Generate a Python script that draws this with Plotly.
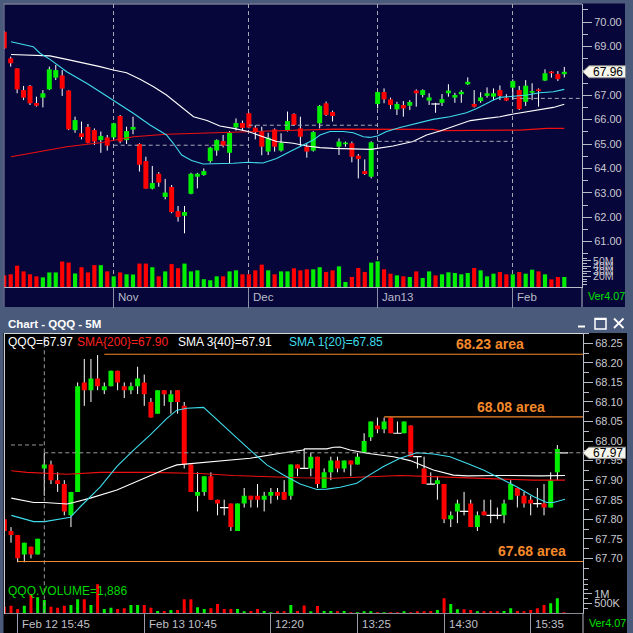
import plotly.graph_objects as go
import pandas as pd

W = H = 633
FONT = "Liberation Sans, Arial, sans-serif"

# ---------------- Daily QQQ (top panel) ----------------
d_dates = pd.bdate_range("2012-10-05", "2013-02-13", freq="C",
                         holidays=["2012-10-29", "2012-10-30", "2012-11-22",
                                   "2012-12-25", "2013-01-01", "2013-01-21"])
d_open = [69.60, 68.51, 68.10, 67.21, 67.38, 66.68, 66.90, 67.24, 67.72, 67.81,
          67.19, 65.57, 65.44, 65.70, 65.57, 65.16, 65.27, 65.27, 66.15, 65.16,
          65.59, 65.00, 64.30, 63.17, 63.78, 62.83, 63.24, 62.25, 62.06, 62.96,
          63.66, 63.73, 64.30, 64.73, 65.12, 64.64, 65.68, 65.86, 66.26, 65.67,
          65.51, 64.69, 65.60, 64.73, 65.57, 66.23, 65.64, 64.89, 64.73, 65.85,
          66.67, 66.31, 64.89, 65.00, 65.03, 64.52, 63.89, 63.66, 66.64, 67.13,
          66.83, 66.42, 66.60, 66.57, 67.19, 67.01, 66.78, 66.64, 66.69, 67.08,
          66.90, 67.04, 67.45, 66.64, 66.76, 66.97, 66.94, 67.21, 66.90, 67.31,
          67.21, 66.73, 67.10, 67.24, 67.60, 67.97, 67.87, 67.86]
d_high = [69.62, 68.58, 68.10, 67.38, 67.42, 66.94, 67.21, 68.17, 68.24, 68.03,
          67.20, 66.12, 65.92, 65.82, 65.64, 65.51, 65.37, 65.87, 66.19, 65.71,
          66.12, 65.03, 64.48, 64.10, 63.85, 63.57, 63.32, 62.46, 62.46, 63.82,
          63.82, 64.00, 64.89, 65.19, 65.37, 65.53, 66.05, 65.96, 66.28, 65.77,
          65.71, 65.46, 65.64, 65.44, 66.33, 66.26, 66.12, 65.03, 65.53, 66.60,
          66.74, 66.37, 65.23, 65.10, 65.10, 64.59, 64.37, 65.11, 67.14, 67.28,
          66.90, 66.73, 66.76, 66.80, 67.24, 67.24, 67.08, 66.69, 67.05, 67.45,
          67.10, 67.21, 67.73, 67.21, 67.12, 67.32, 67.28, 67.40, 67.04, 67.65,
          67.38, 67.62, 67.49, 67.28, 68.06, 67.99, 67.99, 68.16]
d_low = [68.90, 68.17, 67.08, 66.80, 66.60, 66.53, 66.50, 67.21, 67.62, 66.97,
         65.57, 65.46, 65.19, 65.03, 64.96, 64.64, 64.73, 65.19, 65.03, 65.00,
         65.40, 63.87, 63.17, 63.14, 63.25, 62.73, 62.16, 61.82, 61.34, 62.94,
         63.18, 63.70, 64.23, 64.52, 64.86, 64.22, 65.55, 65.57, 65.64, 65.19,
         64.54, 64.55, 64.69, 64.69, 65.51, 65.74, 64.89, 64.44, 64.69, 65.64,
         66.15, 65.92, 64.55, 64.89, 64.25, 63.59, 63.73, 63.59, 66.46, 66.67,
         66.43, 66.19, 66.12, 66.39, 66.53, 66.91, 66.60, 66.28, 66.56, 66.94,
         66.69, 66.69, 67.42, 66.50, 66.69, 66.90, 66.80, 66.80, 66.76, 66.80,
         66.39, 66.56, 66.80, 66.53, 67.58, 67.72, 67.58, 67.73]
d_close = [68.92, 68.31, 67.24, 66.90, 66.67, 66.57, 67.08, 68.06, 68.03, 67.27,
           65.60, 65.98, 65.29, 65.05, 65.10, 65.33, 64.93, 65.85, 65.10, 65.53,
           65.70, 64.15, 63.17, 63.40, 63.42, 63.01, 62.21, 62.01, 62.21, 63.78,
           63.78, 63.89, 64.85, 65.16, 64.93, 65.46, 65.86, 65.66, 65.67, 65.48,
           64.89, 65.26, 64.89, 65.05, 65.94, 65.78, 65.30, 64.69, 65.49, 66.56,
           66.19, 66.15, 65.10, 65.05, 64.48, 64.39, 63.77, 65.07, 67.13, 66.83,
           66.60, 66.64, 66.46, 66.72, 67.08, 67.21, 66.91, 66.64, 66.84, 67.19,
           67.01, 67.14, 67.55, 66.53, 66.91, 67.08, 67.08, 66.97, 66.78, 67.58,
           66.43, 67.39, 67.17, 67.17, 67.90, 67.90, 67.66, 67.96]
d_volume_m = [22.4, 24.4, 41, 30, 24.4, 20.5, 18.6, 28, 28, 49,
              47, 26, 38, 28, 42, 42, 30, 20.5, 28, 24.4,
              24, 45, 45, 38, 20.5, 30, 44, 36, 45, 30,
              32, 15, 13, 20.5, 20.5, 30, 32, 24.4, 24.4, 32,
              43, 32, 24.4, 30, 30, 36, 32, 34, 34, 38,
              28.8, 32, 39.7, 9.6, 19.2, 36.5, 28.8, 46.8, 49.4, 34,
              25.6, 22.4, 20.5, 19.2, 30, 17.3, 30, 22.4, 24.4, 28.2,
              26.9, 24.4, 26.9, 36.5, 32, 20.5, 25.6, 28.8, 24.4, 24.4,
              28.8, 25.6, 33.3, 30, 24.4, 14.7, 19.2, 19.2]
# moving averages (bar position, value)
d_cyan_x = [1.05, 4.5, 5.55, 7.1, 9.7, 11.25, 12.8, 14.87, 16.94, 20.05, 22.64, 25.2, 26.26,
            27.56, 29.1, 30.9, 35.6, 37.9, 40.2, 42.3, 44.4, 46.46, 48.0, 49.05, 50.6, 52.67,
            54.2, 55.8, 56.8, 57.96, 59.4, 61.48, 64.07, 66.6, 69.2, 71.8, 73.4, 74.95, 76.0,
            77.0, 79.1, 81.2, 83.2, 85.3, 87.0]
d_cyan_y = [69.19, 68.99, 68.72, 68.47, 67.96, 67.73, 67.49, 67.14, 66.80, 66.26, 65.78, 65.37,
            65.03, 64.55, 64.32, 64.18, 64.21, 64.25, 64.22, 64.41, 64.69, 64.96, 65.16, 65.37,
            65.51, 65.51, 65.46, 65.30, 65.27, 65.33, 65.51, 65.68, 65.85, 66.01, 66.12, 66.28,
            66.46, 66.67, 66.80, 66.91, 66.97, 67.01, 67.10, 67.14, 67.24]
d_white_x = [1.05, 4.5, 7.1, 9.7, 12.3, 14.87, 16.94, 19.0, 21.1, 23.2, 25.2, 27.3, 29.4, 31.5,
             33.5, 35.6, 37.9, 40.2, 42.3, 44.9, 47.0, 49.05, 51.1, 56.97, 60.4, 63.5, 65.6,
             67.7, 70.3, 72.4, 74.95, 77.0, 79.1, 81.2, 83.2, 85.3, 87.0]
d_white_y = [68.67, 68.65, 68.61, 68.47, 68.33, 68.17, 68.03, 67.92, 67.65, 67.35, 67.01, 66.56,
             66.12, 65.96, 65.74, 65.64, 65.51, 65.30, 65.10, 65.03, 64.92, 64.85, 64.82, 64.78,
             64.92, 65.10, 65.37, 65.53, 65.78, 65.96, 66.05, 66.12, 66.23, 66.33, 66.42, 66.50,
             66.63]
d_red_x = [1.05, 4.5, 9.7, 14.87, 20.05, 25.2, 30.4, 35.6, 40.8, 46.0, 51.1, 66.6, 67.7, 80.1, 84.3, 87.0]
d_red_y = [64.48, 64.64, 64.89, 65.05, 65.30, 65.40, 65.44, 65.51, 65.55, 65.57, 65.61, 65.60,
           65.55, 65.57, 65.64, 65.64]
d_month_levels = [64.95, 65.77, 65.11, 66.87]   # dashed monthly reference levels
d_month_labels = ["Nov", "Dec", "Jan13", "Feb"]
d_price_ticks = [61, 62, 63, 64, 65, 66, 67, 68, 69, 70]
d_vol_ticks = [20, 30, 40, 50]

# ---------------- 5-minute QQQ (bottom panel) ----------------
b_times = ([f"Feb 12 15:{m:02d}" for m in range(35, 60, 5)] + ["Feb 12 16:00"] +
           [f"Feb 13 {h}:{m:02d}" for h in range(9, 16) for m in range(0, 60, 5)
            if not (h == 9 and m < 30)] + ["Feb 13 16:00"])
b_open = [67.80, 67.77, 67.76, 67.71, 67.73, 67.71, 67.93, 67.94, 67.90, 67.89,
          67.81, 67.87, 68.15, 68.13, 68.16, 68.13, 68.14, 68.18, 68.14, 68.13,
          68.14, 68.15, 68.10, 68.07, 68.13, 68.10, 68.13, 68.09, 67.94, 67.86,
          67.87, 67.91, 67.85, 67.83, 67.84, 67.77, 67.84, 67.86, 67.86, 67.85,
          67.86, 67.87, 67.87, 67.86, 67.94, 67.93, 67.93, 67.96, 67.88, 67.92,
          67.95, 67.93, 67.95, 67.94, 67.97, 68.01, 68.04, 68.03, 68.06, 68.02,
          68.02, 68.04, 67.96, 67.93, 67.89, 67.89, 67.89, 67.80, 67.82, 67.82,
          67.84, 67.78, 67.82, 67.81, 67.81, 67.81, 67.85, 67.88, 67.86, 67.85,
          67.84, 67.84, 67.83, 67.92, 67.97]
b_high = [67.80, 67.78, 67.76, 67.74, 67.73, 67.75, 67.97, 67.95, 67.92, 67.90,
          67.87, 68.15, 68.21, 68.21, 68.22, 68.15, 68.18, 68.18, 68.15, 68.15,
          68.19, 68.17, 68.11, 68.13, 68.13, 68.13, 68.13, 68.10, 67.94, 67.92,
          67.91, 67.92, 67.85, 67.85, 67.84, 67.84, 67.88, 67.86, 67.89, 67.87,
          67.88, 67.88, 67.90, 67.94, 67.94, 67.98, 67.97, 67.96, 67.93, 67.96,
          67.96, 67.95, 67.95, 67.97, 68.02, 68.05, 68.06, 68.06, 68.06, 68.05,
          68.05, 68.04, 67.96, 67.96, 67.92, 67.91, 67.89, 67.82, 67.85, 67.87,
          67.85, 67.82, 67.85, 67.85, 67.83, 67.85, 67.90, 67.88, 67.87, 67.86,
          67.88, 67.89, 67.92, 67.99, 67.97]
b_low = [67.77, 67.74, 67.69, 67.69, 67.70, 67.71, 67.86, 67.89, 67.87, 67.81,
         67.78, 67.87, 68.09, 68.10, 68.13, 68.12, 68.14, 68.13, 68.11, 68.12,
         68.12, 68.09, 68.06, 68.07, 68.09, 68.07, 68.07, 67.93, 67.87, 67.82,
         67.86, 67.85, 67.81, 67.81, 67.77, 67.77, 67.83, 67.83, 67.83, 67.82,
         67.84, 67.85, 67.85, 67.85, 67.91, 67.93, 67.91, 67.88, 67.88, 67.90,
         67.92, 67.92, 67.91, 67.94, 67.97, 68.00, 68.02, 68.02, 68.02, 68.02,
         68.02, 67.96, 67.93, 67.89, 67.89, 67.85, 67.79, 67.78, 67.79, 67.81,
         67.78, 67.77, 67.81, 67.79, 67.80, 67.79, 67.85, 67.83, 67.83, 67.81,
         67.83, 67.81, 67.83, 67.90, 67.97]
b_close = [67.77, 67.76, 67.70, 67.74, 67.71, 67.75, 67.94, 67.90, 67.89, 67.82,
           67.87, 68.14, 68.13, 68.16, 68.14, 68.14, 68.18, 68.15, 68.13, 68.14,
           68.16, 68.12, 68.06, 68.13, 68.12, 68.12, 68.10, 67.94, 67.87, 67.87,
           67.91, 67.85, 67.84, 67.83, 67.78, 67.84, 67.86, 67.85, 67.85, 67.86,
           67.87, 67.86, 67.85, 67.94, 67.93, 67.93, 67.96, 67.89, 67.92, 67.95,
           67.93, 67.95, 67.94, 67.96, 68.00, 68.05, 68.03, 68.05, 68.02, 68.02,
           68.05, 67.96, 67.96, 67.89, 67.89, 67.90, 67.80, 67.81, 67.84, 67.82,
           67.78, 67.81, 67.81, 67.81, 67.81, 67.84, 67.89, 67.86, 67.84, 67.84,
           67.84, 67.83, 67.90, 67.98, 67.97]
b_volume_k = [345, 397, 224, 397, 983, 828, 690, 345, 293, 397,
              431, 724, 724, 431, 1500, 224, 293, 224, 259, 431,
              431, 431, 293, 121, 121, 172, 172, 724, 724, 310,
              224, 259, 483, 224, 224, 224, 86, 121, 224, 121,
              34, 86, 86, 431, 121, 400, 86, 380, 121, 121,
              86, 121, 34, 34, 86, 86, 34, 34, 34, 34,
              86, 34, 86, 86, 121, 172, 776, 483, 207, 207,
              172, 86, 86, 86, 86, 121, 259, 121, 86, 172,
              259, 431, 517, 776, 20]
b_white_x = [1.05, 4.4, 6.05, 9.4, 10.4, 12.9, 16.9, 20.9, 24.4, 25.9, 28.4, 31.9, 36.9, 41.9,
             44.9, 45.05, 48.4, 49.4, 50.4, 51.9, 54.4, 58.4, 60.9, 64.4, 67.4, 69.4, 74.4, 80.4, 84.15]
b_white_y = [67.854, 67.843, 67.843, 67.839, 67.843, 67.854, 67.875, 67.905, 67.930, 67.939,
             67.943, 67.947, 67.956, 67.970, 67.977, 67.980, 67.980, 67.984, 67.985, 67.977,
             67.969, 67.960, 67.950, 67.926, 67.913, 67.911, 67.912, 67.911, 67.912]
b_cyan_x = [1.05, 4.4, 6.05, 9.9, 11.4, 14.4, 16.9, 19.4, 21.9, 24.4, 25.9, 27.4, 29.9, 31.9,
            34.4, 36.9, 39.4, 41.9, 44.4, 46.9, 48.4, 50.4, 52.9, 54.4, 56.9, 59.4, 61.9, 64.4,
            66.9, 69.4, 71.9, 74.4, 76.9, 79.4, 81.4, 82.4, 84.15]
b_cyan_y = [67.810, 67.794, 67.794, 67.805, 67.832, 67.883, 67.935, 67.977, 68.016, 68.058,
            68.079, 68.084, 68.086, 68.054, 68.016, 67.977, 67.939, 67.913, 67.890, 67.876,
            67.877, 67.882, 67.892, 67.909, 67.935, 67.956, 67.970, 67.967, 67.960, 67.943,
            67.926, 67.905, 67.883, 67.858, 67.843, 67.843, 67.851]
b_red_x = [1.05, 3.4, 9.4, 14.4, 21.9, 29.4, 34.4, 39.4, 44.4, 49.4, 54.4, 59.4, 64.4, 69.4, 74.4, 79.4, 84.15]
b_red_y = [67.924, 67.920, 67.915, 67.920, 67.920, 67.917, 67.912, 67.909, 67.906, 67.905,
           67.909, 67.912, 67.909, 67.906, 67.903, 67.900, 67.900]
b_tick_labels = ["Feb 12 15:45", "Feb 13 10:45", "Feb 13 12:20", "Feb 13 13:25", "Feb 13 14:30", "Feb 13 15:35"]
b_tick_text = ["Feb 12 15:45", "Feb 13 10:45", "12:20", "13:25", "14:30", "15:35"]
b_prev_level = 67.99      # dashed level, previous session
b_last_level = 67.97      # dashed level, current session
b_areas = [("68.23 area", 68.222, "Feb 13 10:15"),
           ("68.08 area", 68.062, "Feb 13 13:45"),
           ("67.68 area", 67.692, "Feb 12 15:45")]
b_price_ticks = [67.70, 67.75, 67.80, 67.85, 67.90, 67.95, 68.00, 68.05, 68.10, 68.15, 68.20, 68.25]
b_vol_ticks = [500, 1000]
b_vol_text = ["500K", "1M"]
b_volume_label = "QQQ.VOLUME=1,886"

# ---------------- styling ----------------
GREEN, RED, WHITE, CYAN = "#00ee00", "#ff0000", "#ffffff", "#3fdcec"
MA_RED = "#ee1010"
ORANGE = "#f5892a"
AXIS_TXT = "#c8c8d0"
NAVY = "#07063a"
SLATE = "#4a5a7b"


def PX(x):
    return x / W


def PY(y):
    return 1 - y / H


TOP = dict(x0=4, x1=582, y0=4, y1=287, xr=[-0.04, 89.75], yr=[59.14, 70.738], vr=[0, 544])
BOT = dict(x0=4, x1=583, y0=333.3, y1=613.3, xr=[-0.05, 86.85], yr=[67.5595, 68.2756], vr=[0, 14500])
top_ppu = (TOP["y1"] - TOP["y0"]) / (TOP["yr"][1] - TOP["yr"][0])
bot_ppu = (BOT["y1"] - BOT["y0"]) / (BOT["yr"][1] - BOT["yr"][0])

fig = go.Figure()


def add_candles(o, h, l, c, xa, ya, ppu, body_px):
    idx = list(range(len(o)))
    wx, wy = [], []
    for i in idx:
        wx += [i, i, None]
        wy += [l[i], h[i], None]
    fig.add_trace(go.Scatter(x=wx, y=wy, mode="lines", line=dict(color=WHITE, width=1),
                             xaxis=xa, yaxis=ya, hoverinfo="skip"))
    min_h = 1.6 / ppu
    for col, test in ((GREEN, lambda a, b: b - a > 0.004), (RED, lambda a, b: a - b > 0.004)):
        bx, by = [], []
        for i in idx:
            if test(o[i], c[i]):
                lo, hi = min(o[i], c[i]), max(o[i], c[i])
                if hi - lo < min_h:
                    m = (hi + lo) / 2
                    lo, hi = m - min_h / 2, m + min_h / 2
                bx += [i, i, None]
                by += [lo, hi, None]
        fig.add_trace(go.Scatter(x=bx, y=by, mode="lines", line=dict(color=col, width=body_px),
                                 xaxis=xa, yaxis=ya, hoverinfo="skip"))
    dj = [i for i in idx if abs(c[i] - o[i]) <= 0.004]
    fig.add_trace(go.Scatter(x=dj, y=[c[i] for i in dj], mode="markers",
                             marker=dict(symbol="line-ew", size=6, line=dict(color=WHITE, width=1.2)),
                             xaxis=xa, yaxis=ya, hoverinfo="skip"))


def vol_colors(o, c):
    return [GREEN if c[i] - o[i] > 0.004 else RED for i in range(len(o))]


# ---- top panel traces ----
add_candles(d_open, d_high, d_low, d_close, "x", "y", top_ppu, 5)
for xs, ys, col in ((d_red_x, d_red_y, MA_RED), (d_white_x, d_white_y, WHITE), (d_cyan_x, d_cyan_y, CYAN)):
    fig.add_trace(go.Scatter(x=xs, y=ys, mode="lines", line=dict(color=col, width=1.1),
                             xaxis="x", yaxis="y", hoverinfo="skip"))
fig.add_trace(go.Bar(x=list(range(len(d_volume_m))), y=d_volume_m, width=0.65,
                     marker=dict(color=vol_colors(d_open, d_close), line=dict(width=0)),
                     xaxis="x", yaxis="y2", hoverinfo="skip"))

# ---- bottom panel traces ----
add_candles(b_open, b_high, b_low, b_close, "x2", "y3", bot_ppu, 5)
for xs, ys, col in ((b_red_x, b_red_y, MA_RED), (b_white_x, b_white_y, WHITE), (b_cyan_x, b_cyan_y, CYAN)):
    fig.add_trace(go.Scatter(x=xs, y=ys, mode="lines", line=dict(color=col, width=1.1),
                             xaxis="x2", yaxis="y3", hoverinfo="skip"))
fig.add_trace(go.Bar(x=list(range(len(b_volume_k))), y=b_volume_k, width=0.45,
                     marker=dict(color=vol_colors(b_open, b_close), line=dict(width=0)),
                     xaxis="x2", yaxis="y4", hoverinfo="skip"))

# ---- ticks from data ----
month_idx = []
for k in range(1, len(d_dates)):
    if d_dates[k].month != d_dates[k - 1].month:
        month_idx.append(k)
b_tick_idx = [b_times.index(t) for t in b_tick_labels]
day_break = next(k for k in range(1, len(b_times)) if b_times[k][:6] != b_times[k - 1][:6])

tickfont = dict(family=FONT, size=11, color=AXIS_TXT)
fig.update_layout(
    width=W, height=H, margin=dict(l=0, r=0, t=0, b=0),
    paper_bgcolor=SLATE, plot_bgcolor="rgba(0,0,0,0)", showlegend=False,
    barmode="overlay", font=dict(family=FONT),
    xaxis=dict(domain=[PX(TOP["x0"]), PX(TOP["x1"])], range=TOP["xr"], anchor="y",
               tickmode="array", tickvals=month_idx, showticklabels=False,
               ticks="outside", ticklen=20, tickcolor="#8a90a8", tickwidth=1,
               showgrid=True, gridcolor="#a8a8b4", griddash="4px,3px", gridwidth=1,
               showline=True, linecolor="#b8bcc8", linewidth=1, zeroline=False, fixedrange=True),
    yaxis=dict(domain=[PY(TOP["y1"]), PY(TOP["y0"])], range=TOP["yr"], anchor="x", side="right",
               tickmode="array", tickvals=d_price_ticks, ticktext=[f"{v:.2f}" for v in d_price_ticks],
               ticks="outside", ticklen=9, tickcolor="#b8bcc8", tickfont=tickfont,
               showgrid=False, zeroline=False, showline=True, linecolor="#b8bcc8",
               minor=dict(tickvals=[v + 0.5 for v in [60] + d_price_ticks], ticks="outside",
                          ticklen=5, tickcolor="#b8bcc8", showgrid=False),
               fixedrange=True),
    yaxis2=dict(overlaying="y", anchor="x", side="right", range=TOP["vr"],
                tickmode="array", tickvals=d_vol_ticks, ticktext=[f"{v}M" for v in d_vol_ticks],
                ticks="outside", ticklen=8, tickcolor="#b8bcc8",
                tickfont=dict(family=FONT, size=10.5, color=AXIS_TXT),
                showgrid=False, zeroline=False, showline=False,
                minor=dict(tickvals=[5, 10, 15, 25, 35, 45, 55], ticks="outside", ticklen=4,
                           tickcolor="#b8bcc8", showgrid=False),
                fixedrange=True),
    xaxis2=dict(domain=[PX(BOT["x0"]), PX(BOT["x1"])], range=BOT["xr"], anchor="y3",
                tickmode="array", tickvals=b_tick_idx, showticklabels=False,
                ticks="outside", ticklen=20, tickcolor="#9a9aa8", tickwidth=1,
                showgrid=False, showline=True, linecolor="#8a8a96", zeroline=False, fixedrange=True),
    yaxis3=dict(domain=[PY(BOT["y1"]), PY(BOT["y0"])], range=BOT["yr"], anchor="x2", side="right",
                tickmode="array", tickvals=b_price_ticks, ticktext=[f"{v:.2f}" for v in b_price_ticks],
                ticks="outside", ticklen=9, tickcolor="#b8bcc8", tickfont=tickfont,
                showgrid=False, zeroline=False, showline=True, linecolor="#b8bcc8",
                minor=dict(tickvals=[v + 0.025 for v in [67.65] + b_price_ticks], ticks="outside",
                           ticklen=5, tickcolor="#b8bcc8", showgrid=False),
                fixedrange=True),
    yaxis4=dict(overlaying="y3", anchor="x2", side="right", range=BOT["vr"],
                tickmode="array", tickvals=b_vol_ticks, ticktext=b_vol_text,
                ticks="outside", ticklen=8, tickcolor="#b8bcc8", tickfont=tickfont,
                showgrid=False, zeroline=False, showline=False,
                minor=dict(tickvals=[250, 750, 1250, 1500, 1750], ticks="outside", ticklen=4,
                           tickcolor="#b8bcc8", showgrid=False),
                fixedrange=True),
)

shapes = []


def prect(x0, y0, x1, y1, fill, layer="below"):
    shapes.append(dict(type="rect", xref="paper", yref="paper", x0=PX(x0), x1=PX(x1),
                       y0=PY(y1), y1=PY(y0), fillcolor=fill, line=dict(width=0), layer=layer))


def pline(x0, y0, x1, y1, col, w=1, dash=None):
    shapes.append(dict(type="line", xref="paper", yref="paper", x0=PX(x0), x1=PX(x1),
                       y0=PY(y0), y1=PY(y1), line=dict(color=col, width=w, dash=dash)))


# panel backgrounds
prect(3.5, 3.5, 625, 307, NAVY)
prect(3.5, 333, 627, 633, "#000000")
# frame lines
pline(3.5, 4, 582, 4, "#a8acbc")
pline(4, 4, 4, 307, "#8a90a8")
pline(582, TOP["y1"], 582, 307, "#b8bcc8")
pline(4, 333.5, 583, 333.5, "#d8d8d8")
pline(4.5, 333.5, 4.5, 614, "#d0d0d0")
pline(583, BOT["y1"], 583, 633, "#b8bcc8")

# top: dashed monthly reference levels
ends = month_idx[1:] + [TOP["xr"][1]]
for s, e, lv in zip(month_idx, ends, d_month_levels):
    shapes.append(dict(type="line", xref="x", yref="y", x0=s, x1=e, y0=lv, y1=lv,
                       line=dict(color="#a8a8b4", width=1, dash="4px,3px")))

# bottom: session separator and dashed levels
shapes.append(dict(type="line", xref="x2", yref="paper", x0=day_break, x1=day_break,
                   y0=PY(BOT["y1"]), y1=PY(BOT["y0"] + 1),
                   line=dict(color="#9a9aa0", width=1, dash="4px,3px")))
shapes.append(dict(type="line", xref="x2", yref="y3", x0=1, x1=day_break, y0=b_prev_level, y1=b_prev_level,
                   line=dict(color="#9a9aa0", width=1, dash="4px,3px")))
shapes.append(dict(type="line", xref="x2", yref="y3", x0=day_break, x1=BOT["xr"][1],
                   y0=b_last_level, y1=b_last_level,
                   line=dict(color="#9a9aa0", width=1, dash="4px,3px")))
# orange support / resistance areas
for txt, lv, start in b_areas:
    shapes.append(dict(type="line", xref="x2", yref="y3", x0=b_times.index(start), x1=BOT["xr"][1],
                       y0=lv, y1=lv, line=dict(color=ORANGE, width=1.2)))


# price tags
def price_tag(yval, yref, ppu, half_px):
    dh = half_px / ppu
    path = (f"M {PX(582.7)},{yval} L {PX(589)},{yval + dh} L {PX(625.5)},{yval + dh} "
            f"L {PX(625.5)},{yval - dh} L {PX(589)},{yval - dh} Z")
    shapes.append(dict(type="path", xref="paper", yref=yref, path=path,
                       fillcolor="#f6f6ec", line=dict(color="#909090", width=1), layer="above"))


price_tag(d_close[-1], "y", top_ppu, 6)
price_tag(b_close[-1], "y3", bot_ppu, 5.6)

# window controls
pline(578, 326.5, 585, 326.5, "#ffffff", 2)
shapes.append(dict(type="rect", xref="paper", yref="paper", x0=PX(595), x1=PX(606),
                   y0=PY(329), y1=PY(318.5), line=dict(color="#ffffff", width=1.5)))
pline(595, 319, 606, 319, "#ffffff", 2)
pline(614, 318.5, 623.5, 328, "#ffffff", 1.8)
pline(614, 328, 623.5, 318.5, "#ffffff", 1.8)
fig.update_layout(shapes=shapes)

ann = []


def text(x, y, s, col, size=12, anchor="left", bold=False, xref="paper", yref="paper", xshift=0, yshift=0):
    ann.append(dict(x=x, y=y, xref=xref, yref=yref, text=f"<b>{s}</b>" if bold else s,
                    showarrow=False, xanchor=anchor, yanchor="middle", xshift=xshift, yshift=yshift,
                    font=dict(family=FONT, size=size, color=col)))


# top month labels
for k, lab in zip(month_idx, d_month_labels):
    text(k, PY(297), lab, "#b8bcc8", 11.5, xref="x", xshift=2)
# bottom time labels
for k, lab in zip(b_tick_idx, b_tick_text):
    text(k, PY(623.5), lab, "#c0c0c8", 11.5, xref="x2", xshift=2.5)
text(PX(586), PY(296), "Ver4.07", "#00e000", 10.8)
text(PX(587), PY(623), "Ver4.07", "#00e000", 10.8)
text(PX(6), PY(323.5), "Chart - QQQ - 5M", "#ffffff", 11.5, bold=True)
# legend line
text(PX(6), PY(342), f"QQQ={b_close[-1]:.2f}", "#ffffff", 12)
text(PX(74.5), PY(342), f"SMA{{200}}={b_red_y[-1]:.2f}", "#ff2020", 12)
text(PX(176.5), PY(342), f"SMA 3{{40}}={b_white_y[-1]:.2f}", "#ffffff", 12)
text(PX(286.5), PY(342), f"SMA 1{{20}}={b_cyan_y[-1]:.2f}", CYAN, 12)
text(PX(6), PY(591), b_volume_label, "#00d800", 12)
# orange area labels
area_x = {"68.23 area": 490, "68.08 area": 511, "67.68 area": 532}
for txt, lv, start in b_areas:
    text(PX(area_x[txt]), lv, txt, ORANGE, 14, anchor="center", bold=True, yref="y3", yshift=10)
# price tag texts
text(PX(607.5), d_close[-1], f"{d_close[-1]:.2f}", "#000000", 12, anchor="center", yref="y")
text(PX(607.5), b_close[-1], f"{b_close[-1]:.2f}", "#000000", 12, anchor="center", yref="y3")
fig.update_layout(annotations=ann)

fig.write_html("out.html", config={"displayModeBar": False, "staticPlot": False},
               post_script="document.body.style.margin='0';document.body.style.padding='0';"
                           "document.documentElement.style.overflow='hidden';")
